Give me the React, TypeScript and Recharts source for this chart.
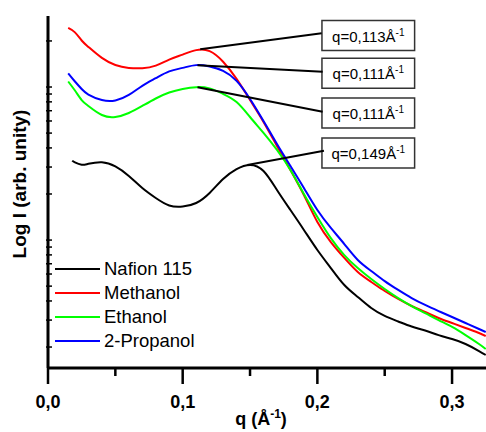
import { LineChart, Line, XAxis, YAxis, ReferenceLine, ReferenceArea, Legend } from 'recharts';

const FONT = '"Liberation Sans", Arial, sans-serif';

// scattering vector q (1/Å)
const qGrid = [0.015, 0.02, 0.025, 0.03, 0.04, 0.05, 0.06, 0.07, 0.08, 0.09, 0.1, 0.11, 0.12, 0.13, 0.14, 0.15, 0.16, 0.17, 0.18, 0.19, 0.2, 0.21, 0.22, 0.23, 0.24, 0.25, 0.26, 0.27, 0.28, 0.29, 0.3, 0.31, 0.32, 0.325];
const qNafion = [0.018, 0.02, 0.025, 0.03, 0.04, 0.05, 0.06, 0.07, 0.08, 0.09, 0.1, 0.11, 0.12, 0.13, 0.14, 0.15, 0.16, 0.17, 0.18, 0.19, 0.2, 0.21, 0.22, 0.23, 0.24, 0.25, 0.26, 0.27, 0.28, 0.29, 0.3, 0.31, 0.32, 0.325];

// log10 of intensity, arbitrary units
const logNafion = [0.218, 0.206, 0.191, 0.197, 0.207, 0.18, 0.118, 0.039, -0.026, -0.075, -0.082, -0.059, 0.007, 0.098, 0.163, 0.19, 0.15, 0.026, -0.105, -0.235, -0.366, -0.484, -0.595, -0.673, -0.745, -0.797, -0.833, -0.866, -0.892, -0.922, -0.948, -0.98, -1.026, -1.052];
const logMethanol = [1.085, 1.056, 1.003, 0.961, 0.889, 0.843, 0.824, 0.822, 0.839, 0.878, 0.911, 0.94, 0.933, 0.864, 0.752, 0.614, 0.471, 0.314, 0.157, -0.007, -0.183, -0.314, -0.418, -0.51, -0.575, -0.634, -0.686, -0.732, -0.771, -0.81, -0.843, -0.876, -0.908, -0.928];
const logEthanol = [0.735, 0.676, 0.614, 0.575, 0.516, 0.503, 0.529, 0.575, 0.624, 0.663, 0.686, 0.698, 0.69, 0.654, 0.601, 0.503, 0.399, 0.288, 0.157, 0, -0.15, -0.288, -0.399, -0.484, -0.556, -0.621, -0.68, -0.732, -0.778, -0.824, -0.869, -0.922, -0.98, -1.013];
const logPropanol = [0.788, 0.735, 0.686, 0.65, 0.614, 0.611, 0.647, 0.707, 0.757, 0.801, 0.824, 0.842, 0.833, 0.804, 0.739, 0.621, 0.477, 0.327, 0.183, 0.039, -0.105, -0.222, -0.327, -0.431, -0.503, -0.569, -0.627, -0.68, -0.725, -0.765, -0.804, -0.843, -0.882, -0.902];

// peak annotations
const peakText = ['q=0,113', 'q=0,111', 'q=0,111', 'q=0,149'];
const peakQ = [0.113, 0.111, 0.111, 0.148];
const peakLog = [0.945, 0.842, 0.698, 0.19];

// axis ticks
const xTicks = [0, 0.05, 0.1, 0.15, 0.2, 0.25, 0.3];
const xTickLabels = ['0,0', '0,1', '0,2', '0,3'];
const yDecades = [-2, -1, 0, 1];
const yMultipliers = [1, 1.5, 2, 2.5, 3, 3.5, 4, 4.5, 5];

// annotation box layout (data units)
const boxLeft = 0.2034;
const boxRight = 0.2722;
const boxTops = [1.133, 0.887, 0.627, 0.366];
const boxHeight = 0.196;
const leaderEnds = [[0.2032, 1.05], [0.2039, 0.799], [0.2039, 0.538], [0.2049, 0.283]];

const X_MAX = 0.3252;
const Y_MIN = -1.137;
const Y_MAX = 1.163;

const yTicks = yDecades
  .flatMap(d => yMultipliers.map(k => d + Math.log10(k)))
  .filter(v => v >= Y_MIN && v <= Y_MAX);

const toPoints = (qs: number[], vs: number[]) => qs.map((q, i) => ({ q, v: vs[i] }));

const series = [
  { name: 'Nafion 115', color: '#000000', data: toPoints(qNafion, logNafion) },
  { name: 'Methanol', color: '#ff0000', data: toPoints(qGrid, logMethanol) },
  { name: 'Ethanol', color: '#00ff00', data: toPoints(qGrid, logEthanol) },
  { name: '2-Propanol', color: '#0000ff', data: toPoints(qGrid, logPropanol) },
];
const seriesOrder = series.map(s => s.name);

const isMajor = (v: number) => Math.abs(v * 10 - Math.round(v * 10)) < 1e-6;

const BottomTick = ({ x, y, payload }: any) => {
  const major = isMajor(payload.value);
  return (
    <g>
      <line x1={x} y1={y} x2={x} y2={y + (major ? 16 : 8)} stroke="#000" strokeWidth={2.5} />
      {major && (
        <text x={x} y={y + 40} textAnchor="middle" fontFamily={FONT} fontWeight="bold" fontSize={18} fill="#000">
          {xTickLabels[Math.round(payload.value * 10)]}
        </text>
      )}
    </g>
  );
};

const TopTick = ({ x, y }: any) => (
  <line x1={x} y1={y} x2={x} y2={y + 3} stroke="#000" strokeWidth={1.5} />
);

const LeftTick = ({ x, y }: any) => (
  <line x1={x - 2} y1={y} x2={x + 4} y2={y} stroke="#000" strokeWidth={1.5} />
);

const renderLegend = (props: any) => {
  const items = [...props.payload].sort(
    (a: any, b: any) => seriesOrder.indexOf(a.value) - seriesOrder.indexOf(b.value)
  );
  return (
    <div style={{ fontFamily: FONT, fontSize: 18.5, color: '#000' }}>
      {items.map((e: any) => (
        <div key={e.value} style={{ display: 'flex', alignItems: 'center', height: 24 }}>
          <svg width={49} height={4} style={{ display: 'block' }}>
            <line x1={0} y1={2} x2={45} y2={2} stroke={e.color} strokeWidth={2} />
          </svg>
          <span style={{ lineHeight: '24px' }}>{e.value}</span>
        </div>
      ))}
    </div>
  );
};

const boxLabel = (text: string) => (props: any) => {
  const { x, y, width, height } = props.viewBox;
  return (
    <text x={x + width / 2} y={y + height / 2 + 6} textAnchor="middle" fontFamily={FONT} fontSize={15} fill="#000">
      <tspan>{text}Å</tspan>
      <tspan dy={-6} fontSize={10}>-1</tspan>
    </text>
  );
};

export default function App() {
  return (
    <div style={{ position: 'absolute', left: 0, top: 0, background: '#fff' }}>
      <LineChart width={486} height={432} margin={{ top: 16, right: 0, bottom: 0, left: 0 }}>
        <XAxis
          dataKey="q"
          type="number"
          domain={[0, X_MAX]}
          allowDataOverflow
          ticks={xTicks}
          interval={0}
          height={64}
          tickSize={0}
          tickMargin={0}
          tickLine={false}
          tick={<BottomTick />}
          axisLine={{ stroke: '#000', strokeWidth: 3 }}
          label={({ viewBox }: any) => (
            <text x={viewBox.x + 213} y={viewBox.y + 57} textAnchor="middle" fontFamily={FONT} fontWeight="bold" fontSize={18} fill="#000">
              q (Å<tspan dy={-7} fontSize={12}>-1</tspan><tspan dy={7}>)</tspan>
            </text>
          )}
        />
        <XAxis
          xAxisId="top"
          orientation="top"
          dataKey="q"
          type="number"
          domain={[0, X_MAX]}
          allowDataOverflow
          ticks={xTicks}
          interval={0}
          height={0}
          tickSize={0}
          tickMargin={0}
          tickLine={false}
          tick={<TopTick />}
          axisLine={{ stroke: '#000', strokeWidth: 2.5 }}
        />
        <YAxis
          type="number"
          domain={[Y_MIN, Y_MAX]}
          allowDataOverflow
          ticks={yTicks}
          interval={0}
          width={48}
          tickSize={0}
          tickMargin={0}
          tickLine={false}
          tick={<LeftTick />}
          axisLine={{ stroke: '#000', strokeWidth: 3 }}
          label={({ viewBox }: any) => {
            const cx = viewBox.x + 26;
            const cy = viewBox.y + viewBox.height / 2 - 8;
            return (
              <text x={cx} y={cy} transform={`rotate(-90 ${cx} ${cy})`} textAnchor="middle" fontFamily={FONT} fontWeight="bold" fontSize={19} fill="#000">
                Log I (arb. unity)
              </text>
            );
          }}
        />
        {series.map(s => (
          <Line
            key={s.name}
            name={s.name}
            data={s.data}
            dataKey="v"
            type="natural"
            stroke={s.color}
            strokeWidth={2}
            dot={false}
            isAnimationActive={false}
          />
        ))}
        {peakText.map((t, i) => (
          <ReferenceLine
            key={'l' + i}
            segment={[{ x: peakQ[i], y: peakLog[i] }, { x: leaderEnds[i][0], y: leaderEnds[i][1] }]}
            stroke="#000"
            strokeWidth={2}
            ifOverflow="visible"
          />
        ))}
        {peakText.map((t, i) => (
          <ReferenceArea
            key={'b' + i}
            x1={boxLeft}
            x2={boxRight}
            y1={boxTops[i] - boxHeight}
            y2={boxTops[i]}
            fill="#fff"
            fillOpacity={1}
            stroke="#333"
            strokeWidth={1.5}
            ifOverflow="visible"
            label={boxLabel(t)}
          />
        ))}
        <Legend
          layout="vertical"
          align="center"
          verticalAlign="middle"
          wrapperStyle={{ left: 55, top: 257, width: 200, height: 100 }}
          content={renderLegend}
        />
      </LineChart>
    </div>
  );
}
